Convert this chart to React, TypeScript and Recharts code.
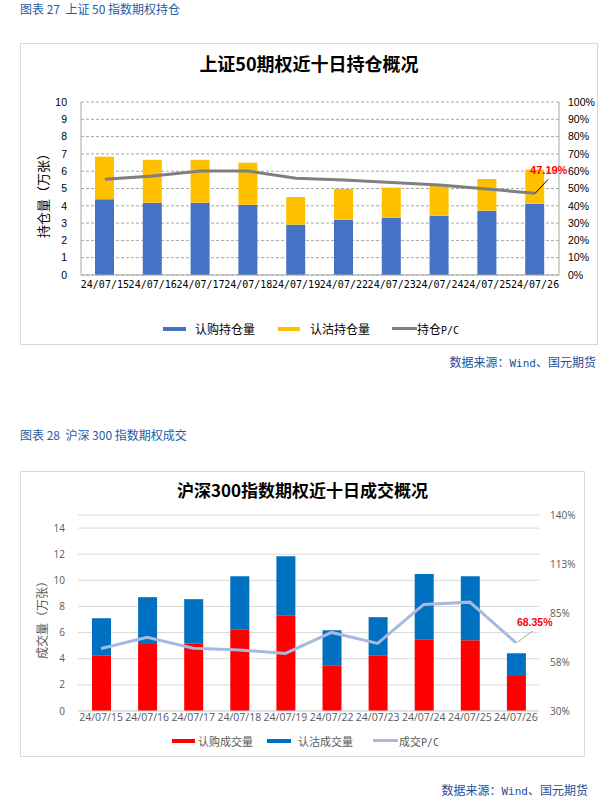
import React from 'react';
import { ComposedChart, Bar, Line, XAxis, YAxis, CartesianGrid } from 'recharts';

const dates = ['24/07/15', '24/07/16', '24/07/17', '24/07/18', '24/07/19', '24/07/22', '24/07/23', '24/07/24', '24/07/25', '24/07/26'];
const oiCall = [4.38, 4.18, 4.18, 4.06, 2.91, 3.2, 3.31, 3.43, 3.72, 4.12];
const oiPut = [2.46, 2.48, 2.48, 2.43, 1.6, 1.77, 1.74, 1.83, 1.83, 1.97];
const oiPC = [0.553, 0.572, 0.601, 0.601, 0.559, 0.549, 0.534, 0.52, 0.497, 0.4719];
const volCall = [4.27, 5.13, 5.19, 6.26, 7.33, 3.5, 4.27, 5.49, 5.42, 2.68];
const volPut = [2.83, 3.58, 3.37, 4.06, 4.52, 2.68, 2.91, 4.99, 4.9, 1.74];
const volPC = [0.651, 0.714, 0.652, 0.643, 0.623, 0.741, 0.679, 0.898, 0.911, 0.6835];

const oiLeftTicks = [0, 1, 2, 3, 4, 5, 6, 7, 8, 9, 10];
const oiRightTicks = [0, 0.1, 0.2, 0.3, 0.4, 0.5, 0.6, 0.7, 0.8, 0.9, 1];
const volLeftTicks = [0, 2, 4, 6, 8, 10, 12, 14];
const volRightTicks = [0.3, 0.575, 0.85, 1.125, 1.4];

const oiData = dates.map((d, i) => ({ date: d, call: oiCall[i], put: oiPut[i], pc: oiPC[i] }));
const volData = dates.map((d, i) => ({ date: d, call: volCall[i], put: volPut[i], pc: volPC[i] }));

const pct = (v: number) => Math.round(v * 100 + 1e-6) + '%';
const CJK = "'Noto Sans CJK SC', 'Noto Sans', sans-serif";
const MONO = "'DejaVu Sans Mono', monospace";
const SANS = "'Liberation Sans', Arial, sans-serif";
const OPEN = "'Open Sans', 'Liberation Sans', sans-serif";

const abs = (left: number, top: number, extra: any = {}) => ({ position: 'absolute' as const, left, top, ...extra });

const oiLabel = (props: any) => {
  const { x, y, index } = props;
  if (index !== dates.length - 1) return <g />;
  return (
    <g>
      <line x1={x} y1={y} x2={x + 13} y2={y - 14} stroke="#000" strokeWidth={1} />
      <text x={x - 5} y={y - 19} fill="#ff0000" fontSize={11} fontWeight="bold" fontFamily={SANS}>
        {(oiPC[index] * 100).toFixed(2) + '%'}
      </text>
    </g>
  );
};

const volLabel = (props: any) => {
  const { x, y, index } = props;
  if (index !== dates.length - 1) return <g />;
  return (
    <g>
      <line x1={x + 1} y1={y} x2={x + 17} y2={y - 12} stroke="#a6a6a6" strokeWidth={1} />
      <text x={x + 1} y={y - 17} fill="#ff0000" fontSize={10.5} fontWeight="bold" fontFamily={SANS}>
        {(volPC[index] * 100).toFixed(2) + '%'}
      </text>
    </g>
  );
};

export default function App() {
  const headerStyle = { fontFamily: CJK, fontSize: 12, color: '#1f5ca3', lineHeight: '14px', whiteSpace: 'nowrap' as const };
  const srcStyle = { fontFamily: CJK, fontSize: 12, color: '#1f4e99', lineHeight: '14px', whiteSpace: 'nowrap' as const, textAlign: 'right' as const };
  return (
    <div style={{ position: 'absolute', left: 0, top: 0, width: 604, height: 805, background: '#fff', overflow: 'hidden' }}>
      {/* ===== Chart 27 ===== */}
      <div style={abs(20, 2, headerStyle)}>图表 27&nbsp; 上证 50 指数期权持仓</div>
      <div style={abs(20, 43, { width: 578, height: 302, border: '1px solid #d9d9d9', boxSizing: 'border-box' })} />
      <div style={abs(20, 51, { width: 578, textAlign: 'center', fontFamily: CJK, fontSize: 18, fontWeight: 'bold', lineHeight: '24px', color: '#000' })}>
        上证50期权近十日持仓概况
      </div>
      <div style={abs(20, 43)}>
        <ComposedChart width={578} height={302} data={oiData} margin={{ top: 59, right: 0, bottom: 50, left: 17 }}>
          <CartesianGrid yAxisId="l" vertical={false} stroke="#a6a6a6" strokeDasharray="3 2" />
          <XAxis
            dataKey="date"
            interval={0}
            height={20}
            tickSize={0}
            tickMargin={6}
            axisLine={{ stroke: '#a6a6a6' }}
            tick={{ fill: '#000', fontSize: 10, fontFamily: MONO }}
          />
          <YAxis
            yAxisId="l"
            width={44}
            domain={[0, 10]}
            ticks={oiLeftTicks}
            interval={0}
            tickSize={0}
            tickMargin={14}
            axisLine={{ stroke: '#a6a6a6' }}
            tick={{ fill: '#000', fontSize: 10.5, fontFamily: SANS }}
            label={{ value: '持仓量（万张）', angle: -90, position: 'insideLeft', offset: 6, dy: 4, style: { textAnchor: 'middle', fill: '#000', fontSize: 13, fontFamily: CJK } }}
          />
          <YAxis
            yAxisId="r"
            orientation="right"
            width={39}
            domain={[0, 1]}
            ticks={oiRightTicks}
            interval={0}
            tickSize={0}
            tickMargin={9}
            tickFormatter={pct}
            axisLine={{ stroke: '#a6a6a6' }}
            tick={{ fill: '#000', fontSize: 10.5, fontFamily: SANS }}
          />
          <Bar yAxisId="l" dataKey="call" stackId="a" fill="#4472c4" barSize={19} isAnimationActive={false} />
          <Bar yAxisId="l" dataKey="put" stackId="a" fill="#ffc000" barSize={19} isAnimationActive={false} />
          <Line yAxisId="r" dataKey="pc" stroke="#7f7f7f" strokeWidth={3} dot={false} isAnimationActive={false} label={oiLabel} />
        </ComposedChart>
      </div>
      {/* legend 1 */}
      <div style={abs(163, 327, { width: 23, height: 4, background: '#4472c4' })} />
      <div style={abs(195, 321, { fontFamily: CJK, fontSize: 12, lineHeight: '16px', color: '#000' })}>认购持仓量</div>
      <div style={abs(278, 327, { width: 22, height: 4, background: '#ffc000' })} />
      <div style={abs(310, 321, { fontFamily: CJK, fontSize: 12, lineHeight: '16px', color: '#000' })}>认沽持仓量</div>
      <div style={abs(392, 327, { width: 25, height: 3, background: '#7f7f7f' })} />
      <div style={abs(417, 321, { fontFamily: CJK, fontSize: 12, lineHeight: '16px', color: '#000', whiteSpace: 'nowrap' })}>
        持仓<span style={{ fontFamily: MONO, fontSize: 10 }}>P/C</span>
      </div>
      <div style={abs(300, 355, { ...srcStyle, width: 296 })}>
        数据来源：<span style={{ fontFamily: MONO, fontSize: 11 }}>Wind</span>、国元期货
      </div>

      {/* ===== Chart 28 ===== */}
      <div style={abs(20, 428, headerStyle)}>图表 28&nbsp; 沪深 300 指数期权成交</div>
      <div style={abs(20, 471, { width: 565, height: 286, border: '1px solid #d9d9d9', boxSizing: 'border-box' })} />
      <div style={abs(20, 478, { width: 565, textAlign: 'center', fontFamily: CJK, fontSize: 17, fontWeight: 'bold', lineHeight: '24px', color: '#000' })}>
        沪深300指数期权近十日成交概况
      </div>
      <div style={abs(20, 471)}>
        <ComposedChart width={565} height={286} data={volData} margin={{ top: 44, right: 6, bottom: 26, left: 18 }}>
          <CartesianGrid yAxisId="l" vertical={false} stroke="#d9d9d9" />
          <XAxis
            dataKey="date"
            interval={0}
            height={20}
            tickSize={0}
            tickMargin={3}
            axisLine={{ stroke: '#d9d9d9' }}
            tick={{ fill: '#595959', fontSize: 10.5, fontFamily: OPEN }}
          />
          <YAxis
            yAxisId="l"
            width={40}
            domain={[0, 15]}
            ticks={volLeftTicks}
            interval={0}
            tickSize={0}
            tickMargin={13}
            axisLine={false}
            tick={{ fill: '#595959', fontSize: 10, fontFamily: OPEN }}
            label={{ value: '成交量（万张）', angle: -90, position: 'insideLeft', offset: 5, dy: 4, style: { textAnchor: 'middle', fill: '#595959', fontSize: 12, fontFamily: CJK } }}
          />
          <YAxis
            yAxisId="r"
            orientation="right"
            width={40}
            domain={[0.3, 1.4]}
            ticks={volRightTicks}
            interval={0}
            tickSize={0}
            tickMargin={11}
            tickFormatter={pct}
            axisLine={false}
            tick={{ fill: '#595959', fontSize: 10, fontFamily: OPEN }}
          />
          <Bar yAxisId="l" dataKey="call" stackId="a" fill="#ff0000" barSize={19} isAnimationActive={false} />
          <Bar yAxisId="l" dataKey="put" stackId="a" fill="#0070c0" barSize={19} isAnimationActive={false} />
          <Line yAxisId="r" dataKey="pc" stroke="#a9b8df" strokeWidth={3} dot={false} isAnimationActive={false} label={volLabel} />
        </ComposedChart>
      </div>
      {/* legend 2 */}
      <div style={abs(172, 739, { width: 23, height: 4, background: '#ff0000' })} />
      <div style={abs(198, 733, { fontFamily: CJK, fontSize: 11, lineHeight: '16px', color: '#595959' })}>认购成交量</div>
      <div style={abs(267, 739, { width: 24, height: 4, background: '#0070c0' })} />
      <div style={abs(298, 733, { fontFamily: CJK, fontSize: 11, lineHeight: '16px', color: '#595959' })}>认沽成交量</div>
      <div style={abs(373, 739, { width: 25, height: 3, background: '#a9b8df' })} />
      <div style={abs(399, 733, { fontFamily: CJK, fontSize: 11, lineHeight: '16px', color: '#595959', whiteSpace: 'nowrap' })}>
        成交<span style={{ fontFamily: MONO, fontSize: 10 }}>P/C</span>
      </div>
      <div style={abs(288, 783, { ...srcStyle, width: 300 })}>
        数据来源：<span style={{ fontFamily: MONO, fontSize: 11 }}>Wind</span>、国元期货
      </div>
    </div>
  );
}
